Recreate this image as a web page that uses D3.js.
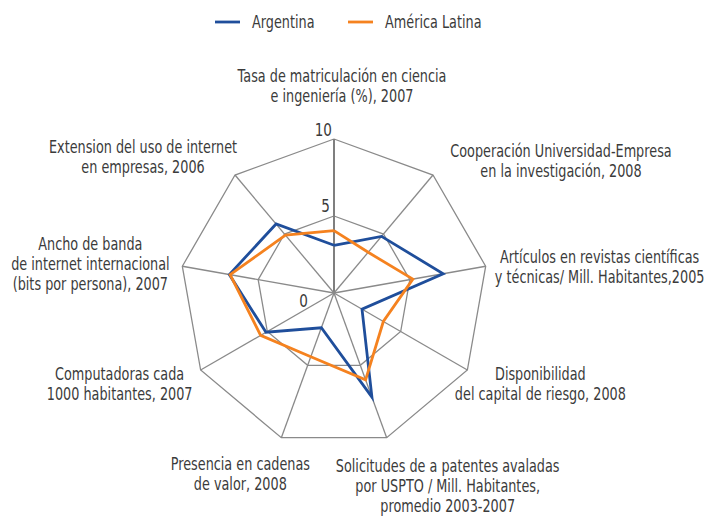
<!DOCTYPE html>
<html>
<head>
<meta charset="utf-8">
<script src="https://cdn.jsdelivr.net/npm/d3@7"></script>
<style>
  body { margin: 0; background: #fff; }
  text { font-family: "DejaVu Sans", sans-serif; fill: #3b3b3b; }
</style>
</head>
<body>
<svg id="chart"></svg>
<script>
// axis labels, clockwise from the top
const axes = [
    ["Tasa de matriculación en ciencia", "e ingeniería (%), 2007"],
    ["Cooperación Universidad-Empresa", "en la investigación, 2008"],
    ["Artículos en revistas científicas", "y técnicas/ Mill. Habitantes,2005"],
    ["Disponibilidad", "del capital de riesgo, 2008"],
    ["Solicitudes de a patentes avaladas", "por USPTO / Mill. Habitantes,", "promedio 2003-2007"],
    ["Presencia en cadenas", "de valor, 2008"],
    ["Computadoras cada", "1000 habitantes, 2007"],
    ["Ancho de banda", "de internet internacional", "(bits por persona), 2007"],
    ["Extension del uso de internet", "en empresas, 2006"]
];
const seriesNames = ["Argentina", "América Latina"];
const argentina = [3.1, 4.8, 7.2, 2.1, 7.2, 2.4, 5.1, 6.9, 5.85];
const americaLatina = [4.05, 3.45, 5.2, 3.7, 6.0, 4.4, 5.5, 6.85, 4.9];
const ticks = [0, 5, 10];

const width = 708, height = 516;
const cx = 334, cy = 293, R = 154;
const colors = ["#1f4e9b", "#f5821f"];
const fontSize = 17;

// label block offsets relative to each outer vertex: [dx center, dy first baseline]
const labelOffsets = [[8, -57], [128, -18], [114, -3], [73, 10], [61, 34], [-41, 32], [-81, 10], [-92, -16], [-92, -22]];

const svg = d3.select("#chart").attr("width", width).attr("height", height);

// condensed look: squeeze text horizontally so the first label is ~209px wide
const probe = svg.append("text").style("font-size", fontSize + "px").text(axes[0][0]);
const squeeze = 209 / probe.node().getComputedTextLength();
probe.remove();

const r = d3.scaleLinear().domain([0, 10]).range([0, R]);
const angle = i => i * 2 * Math.PI / axes.length;
const pt = (i, v) => [cx + r(v) * Math.sin(angle(i)), cy - r(v) * Math.cos(angle(i))];

// grid rings
const line = d3.line();
[5, 10].forEach(level => {
    const pts = axes.map((a, i) => pt(i, level));
    pts.push(pts[0]);
    svg.append("path")
        .attr("d", line(pts))
        .attr("fill", "none")
        .attr("stroke", "#8a8a8a")
        .attr("stroke-width", 1.3);
});

// spokes
svg.selectAll(".spoke")
    .data(axes)
    .enter()
    .append("line")
    .attr("class", "spoke")
    .attr("x1", cx).attr("y1", cy)
    .attr("x2", (d, i) => pt(i, 10)[0])
    .attr("y2", (d, i) => pt(i, 10)[1])
    .attr("stroke", (d, i) => i === 0 ? "#7f7f7f" : "#8a8a8a")
    .attr("stroke-width", (d, i) => i === 0 ? 2 : 1.3);

// tick labels on the value axis
const tickPos = { 0: [-26, 14], 5: [-4, -4], 10: [-2, -3] };
svg.selectAll(".tick")
    .data(ticks)
    .enter()
    .append("g")
    .attr("class", "tick")
    .attr("transform", d => `translate(${cx + tickPos[d][0]}, ${cy - r(d) + tickPos[d][1]}) scale(${squeeze}, 1)`)
    .append("text")
    .attr("text-anchor", "end")
    .style("font-size", "18px")
    .text(d => d);

// series
[argentina, americaLatina].forEach((values, s) => {
    const pts = values.map((v, i) => pt(i, v));
    pts.push(pts[0]);
    svg.append("path")
        .attr("d", line(pts))
        .attr("fill", "none")
        .attr("stroke", colors[s])
        .attr("stroke-width", 2.8)
        .attr("stroke-linejoin", "miter");
});

// axis labels
axes.forEach((lines, i) => {
    const [vx, vy] = pt(i, 10);
    const t = svg.append("g")
        .attr("transform", `translate(${vx + labelOffsets[i][0]}, ${vy + labelOffsets[i][1]}) scale(${squeeze}, 1)`)
        .append("text")
        .attr("text-anchor", "middle")
        .style("font-size", fontSize + "px");
    lines.forEach((l, j) => {
        t.append("tspan")
            .attr("x", 0)
            .attr("y", j * 20)
            .text(l);
    });
});

// legend
const legendX = [215, 348];
const legend = svg.selectAll(".legend")
    .data(seriesNames)
    .enter()
    .append("g")
    .attr("class", "legend")
    .attr("transform", (d, i) => `translate(${legendX[i]}, 22)`);

legend.append("line")
    .attr("x1", 0).attr("x2", 25)
    .attr("stroke", (d, i) => colors[i])
    .attr("stroke-width", 2.8);

legend.append("g")
    .attr("transform", `translate(37, 6) scale(${squeeze}, 1)`)
    .append("text")
    .style("font-size", fontSize + "px")
    .text(d => d);
</script>
</body>
</html>
